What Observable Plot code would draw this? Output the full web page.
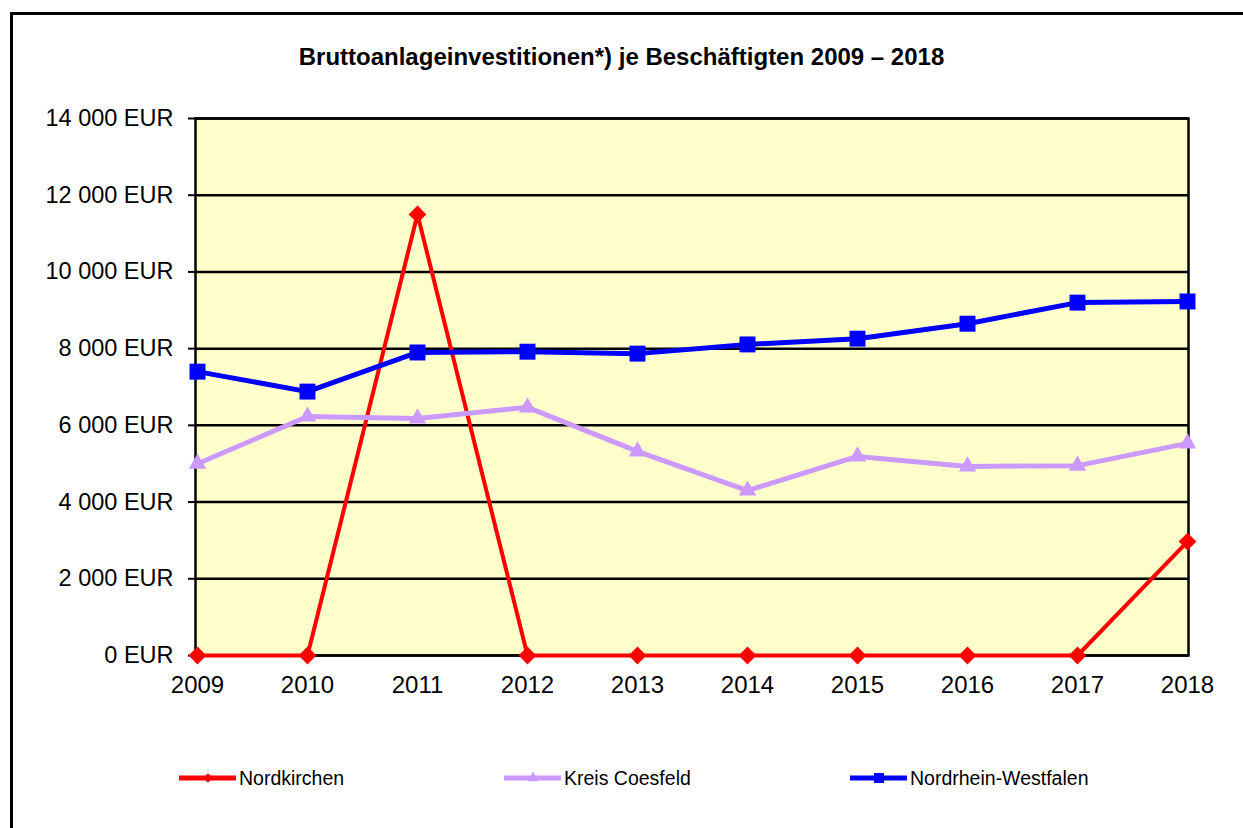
<!DOCTYPE html>
<html>
<head>
<meta charset="utf-8">
<script src="https://cdn.jsdelivr.net/npm/d3@7"></script>
<script src="https://cdn.jsdelivr.net/npm/@observablehq/plot@0.6"></script>
<style>
  html, body { margin: 0; padding: 0; background: #fff; overflow: hidden; }
  #wrap { position: relative; width: 1243px; height: 828px; font-family: "Liberation Sans", Arial, sans-serif; }
  #border { position: absolute; left: 10px; top: 12px; width: 1300px; height: 900px; border: 3px solid #000; box-sizing: border-box; }
  #title { position: absolute; left: 0; width: 1243px; top: 43px; text-align: center; font-weight: bold; font-size: 24px; line-height: 28px; color: #000; }
  #chart { position: absolute; left: 0; top: 0; }
  .leg { position: absolute; top: 766px; display: flex; align-items: center; font-size: 19.5px; line-height: 24px; color: #000; }
  .leg svg { display: block; margin-right: 3px; }
</style>
</head>
<body>
<div id="wrap">
  <div id="border"></div>
  <div id="chart"></div>
  <div id="title">Bruttoanlageinvestitionen*) je Beschäftigten 2009 – 2018</div>
  <div id="legend"></div>
</div>
<script>
const years = [2009, 2010, 2011, 2012, 2013, 2014, 2015, 2016, 2017, 2018];
const nordkirchen = [0, 0, 11500, 0, 0, 0, 0, 0, 0, 2970];
const kreisCoesfeld = [5000, 6230, 6180, 6470, 5320, 4300, 5190, 4930, 4950, 5530];
const nrw = [7400, 6880, 7900, 7920, 7870, 8110, 8260, 8650, 9200, 9230];
const yTicks = [0, 2000, 4000, 6000, 8000, 10000, 12000, 14000];
const seriesNames = ["Nordkirchen", "Kreis Coesfeld", "Nordrhein-Westfalen"];
const seriesColors = ["#FF0000", "#CC99FF", "#0000FF"];

const toRows = (vals) => years.map((y, i) => ({year: y, value: vals[i]}));
const rowsN = toRows(nordkirchen);
const rowsK = toRows(kreisCoesfeld);
const rowsW = toRows(nrw);

const fmt = (d) => d3.format(",")(d).replace(/,/g, " ") + " EUR";

const chart = Plot.plot({
  width: 1243,
  height: 828,
  marginLeft: 195,
  marginRight: 55,
  marginTop: 118,
  marginBottom: 173,
  style: {fontFamily: "'Liberation Sans', Arial, sans-serif", fontSize: "23.5px", color: "#000", background: "transparent"},
  x: {type: "point", domain: years, padding: 0},
  y: {domain: [0, 14000]},
  marks: [
    Plot.frame({fill: "#FFFFCC", stroke: null}),
    Plot.ruleY(yTicks, {stroke: "#000", strokeWidth: 2.5}),
    Plot.frame({stroke: "#000", strokeWidth: 2.5}),
    Plot.axisY({ticks: yTicks, tickFormat: fmt, tickSize: 7, tickPadding: 15, stroke: "#000", strokeWidth: 2, fontSize: 23.5, label: null}),
    Plot.axisX({tickSize: 0, tickPadding: 20, tickFormat: d => String(d), fontSize: 24, label: null}),
    Plot.line(rowsN, {x: "year", y: "value", stroke: seriesColors[0], strokeWidth: 4}),
    Plot.dot(rowsN, {x: "year", y: "value", symbol: "diamond2", r: 8, fill: seriesColors[0], stroke: "none"}),
    Plot.line(rowsK, {x: "year", y: "value", stroke: seriesColors[1], strokeWidth: 5}),
    Plot.dot(rowsK, {x: "year", y: "value", symbol: "triangle", r: 6.5, fill: seriesColors[1], stroke: "none"}),
    Plot.line(rowsW, {x: "year", y: "value", stroke: seriesColors[2], strokeWidth: 5}),
    Plot.dot(rowsW, {x: "year", y: "value", symbol: "square", r: 9, fill: seriesColors[2], stroke: "none"})
  ]
});
document.getElementById("chart").appendChild(chart);

// Legend
const legendX = [179, 504, 850];
const legendSymbols = [d3.symbolDiamond2, d3.symbolTriangle, d3.symbolSquare];
const legendSizes = [60, 55, 100];
const legend = document.getElementById("legend");
seriesNames.forEach((name, i) => {
  const div = document.createElement("div");
  div.className = "leg";
  div.style.left = legendX[i] + "px";
  const svg = d3.create("svg").attr("width", 57).attr("height", 24);
  svg.append("line").attr("x1", 0).attr("x2", 57).attr("y1", 12).attr("y2", 12)
    .attr("stroke", seriesColors[i]).attr("stroke-width", 5);
  svg.append("path").attr("transform", "translate(29,12)")
    .attr("d", d3.symbol(legendSymbols[i], legendSizes[i])())
    .attr("fill", seriesColors[i]);
  div.appendChild(svg.node());
  const span = document.createElement("span");
  span.textContent = name;
  div.appendChild(span);
  legend.appendChild(div);
});
</script>
</body>
</html>
